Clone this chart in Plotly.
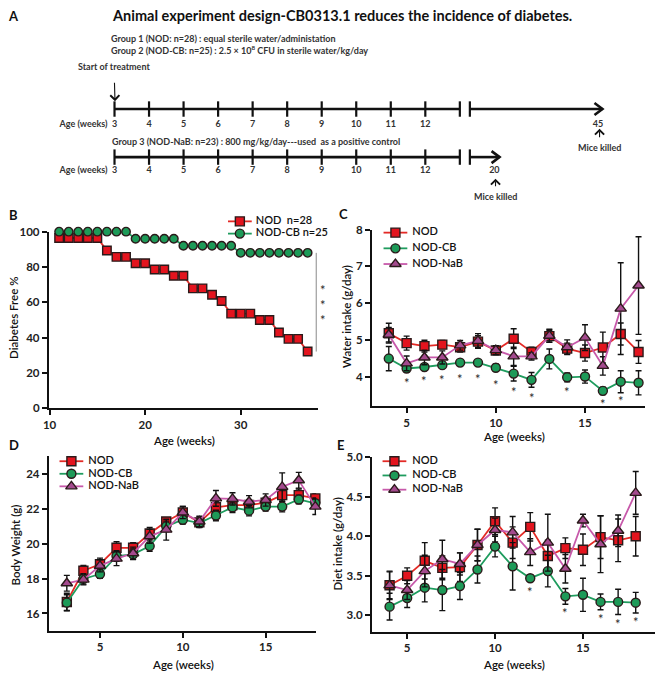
import plotly.graph_objects as go

W, H = 661, 686

# ---------------- data ----------------
# Panel B: diabetes-free survival
weeks_b = [11, 12, 13, 14, 15, 16, 17, 18, 19, 20, 21, 22, 23, 24, 25, 26, 27,
           28, 29, 30, 31, 32, 33, 34, 35, 36, 37]
free_nod = [96.4, 96.4, 96.4, 96.4, 96.4, 89.3, 85.7, 85.7, 82.1, 82.1, 78.6, 78.6,
            75.0, 75.0, 67.9, 67.9, 64.3, 60.7, 53.6, 53.6, 53.6, 50.0, 50.0, 42.9,
            39.3, 39.3, 32.1]
free_cb = [100, 100, 100, 100, 100, 100, 100, 100, 96, 96, 96, 96, 96, 92, 92, 92,
           92, 92, 92, 88, 88, 88, 88, 88, 88, 88, 88]
sig_b_y = [69.0, 60.5, 52.0]

# Panel C: water intake (g/day)
weeks_c = [4, 5, 6, 7, 8, 9, 10, 11, 12, 13, 14, 15, 16, 17, 18]
water_nod = [5.18, 4.91, 4.83, 4.87, 4.80, 4.95, 4.71, 5.03, 4.67, 5.10, 4.76, 4.64, 4.79, 5.16, 4.67]
water_nod_err = [0.27, 0.19, 0.16, 0.11, 0.13, 0.16, 0.11, 0.27, 0.13, 0.16, 0.15, 0.22, 0.42, 0.30, 0.31]
water_cb = [4.49, 4.22, 4.26, 4.31, 4.38, 4.38, 4.24, 4.08, 3.91, 4.48, 3.98, 4.00, 3.61, 3.86, 3.83]
water_cb_err = [0.33, 0.10, 0.08, 0.08, 0.05, 0.06, 0.10, 0.20, 0.20, 0.27, 0.12, 0.18, 0.10, 0.30, 0.33]
water_nab = [5.14, 4.36, 4.52, 4.52, 4.85, 4.97, 4.72, 4.55, 4.55, 5.11, 4.80, 5.06, 4.29, 5.85, 6.48]
water_nab_err = [0.20, 0.20, 0.20, 0.18, 0.13, 0.20, 0.12, 0.25, 0.10, 0.18, 0.20, 0.35, 0.25, 1.25, 1.33]
star_c_x = [5, 6, 7, 8, 9, 10, 11, 12, 14, 16, 17]
star_c_y = [3.94, 4.00, 4.02, 4.05, 4.05, 3.88, 3.70, 3.53, 3.69, 3.35, 3.44]

# Panel D: body weight (g)
weeks_d = [3, 4, 5, 6, 7, 8, 9, 10, 11, 12, 13, 14, 15, 16, 17, 18]
bw_nod = [16.66, 18.45, 18.82, 19.76, 19.76, 20.58, 21.27, 21.78, 21.22, 22.08, 22.21, 22.21, 22.35, 22.78, 22.78, 22.59]
bw_nod_err = [0.50, 0.30, 0.35, 0.35, 0.30, 0.35, 0.20, 0.35, 0.30, 0.35, 0.30, 0.30, 0.30, 0.40, 0.35, 0.25]
bw_cb = [16.62, 17.98, 18.26, 19.29, 19.39, 19.86, 20.99, 21.37, 21.18, 21.61, 22.08, 21.89, 22.12, 22.12, 22.53, 22.31]
bw_cb_err = [0.45, 0.30, 0.25, 0.30, 0.30, 0.30, 0.30, 0.25, 0.25, 0.30, 0.30, 0.30, 0.25, 0.30, 0.25, 0.30]
bw_nab = [17.73, 17.94, 18.73, 19.14, 19.45, 20.42, 20.80, 21.78, 21.27, 22.59, 22.56, 22.40, 22.50, 23.25, 23.63, 22.12]
bw_nab_err = [0.45, 0.30, 0.35, 0.40, 0.35, 0.40, 0.60, 0.35, 0.30, 0.45, 0.35, 0.35, 0.35, 0.80, 0.45, 0.45]

# Panel E: diet intake (g/day)
weeks_e = [4, 5, 6, 7, 8, 9, 10, 11, 12, 13, 14, 15, 16, 17, 18]
diet_nod = [3.38, 3.50, 3.69, 3.60, 3.61, 3.89, 4.19, 3.92, 4.12, 3.75, 3.85, 3.83, 3.99, 3.95, 4.00]
diet_nod_err = [0.17, 0.10, 0.23, 0.15, 0.18, 0.20, 0.17, 0.20, 0.18, 0.20, 0.13, 0.20, 0.27, 0.27, 0.25]
diet_cb = [3.11, 3.22, 3.35, 3.32, 3.37, 3.58, 3.87, 3.62, 3.47, 3.56, 3.24, 3.26, 3.17, 3.17, 3.16]
diet_cb_err = [0.17, 0.12, 0.18, 0.26, 0.17, 0.17, 0.13, 0.30, 0.04, 0.20, 0.10, 0.21, 0.10, 0.16, 0.13]
diet_nab = [3.38, 3.32, 3.56, 3.71, 3.65, 3.89, 4.08, 4.05, 3.80, 3.92, 3.59, 4.20, 3.90, 4.07, 4.55]
diet_nab_err = [0.18, 0.12, 0.20, 0.24, 0.14, 0.20, 0.15, 0.20, 0.17, 0.36, 0.18, 0.08, 0.36, 0.20, 0.27]
star_e_x = [12, 14, 16, 17, 18]
star_e_y = [3.35, 3.08, 3.00, 2.94, 2.97]

# Panel A: timeline labels
tl_weeks = ["3", "4", "5", "6", "7", "8", "9", "10", "11", "12"]
tl1_end = "45"
tl2_end = "20"

group_names = ["NOD", "NOD-CB", "NOD-NaB"]
b_names = ["NOD  n=28", "NOD-CB n=25"]

# ---------------- styles ----------------
FONT = "Lato, 'Open Sans', Arial, sans-serif"
STY = {
    "NOD": dict(fill="#e3141e", line="#e32a26", symbol="square", size=9),
    "NOD-CB": dict(fill="#1d9a58", line="#1f9c5e", symbol="circle", size=9),
    "NOD-NaB": dict(fill="#a44a8e", line="#c759aa", symbol="triangle-up", size=10),
}
EDGE = "#2a1a1a"
STAR_FONT = dict(family=FONT, size=13, color="#2a2a2a")


def xd(a, b):
    return [a / W, b / W]


def yd(top, bottom):
    return [1 - bottom / H, 1 - top / H]


def px(x):
    return x / W


def py(y):
    return 1 - y / H


fig = go.Figure()


def series(x, y, err, name, xa, ya, size=None):
    s = STY[name]
    fig.add_trace(go.Scatter(
        x=x, y=y, mode="lines+markers", name=name, showlegend=False,
        xaxis=xa, yaxis=ya, cliponaxis=False,
        line=dict(color=s["line"], width=1.8),
        marker=dict(symbol=s["symbol"], size=size or s["size"], color=s["fill"],
                    line=dict(color=EDGE, width=1.4)),
        error_y=None if err is None else dict(type="data", array=err, color="#111",
                                              thickness=1.4, width=3),
    ))


def stars(xs, ys, xa, ya, xshift=0):
    for xv, yv in zip(xs, ys):
        fig.add_annotation(x=xv, y=yv, xref=xa, yref=ya, text="*", showarrow=False,
                           xshift=xshift, yshift=-4, font=STAR_FONT)


# Panel B
series(weeks_b, free_nod, None, "NOD", "x", "y", size=8.5)
series(weeks_b, free_cb, None, "NOD-CB", "x", "y", size=8.5)
sig_x = weeks_b[-1] + 0.9
fig.add_trace(go.Scatter(x=[sig_x, sig_x], y=[free_nod[-1], free_cb[-1]], mode="lines",
                         line=dict(color="#8a8a8a", width=1), showlegend=False,
                         xaxis="x", yaxis="y", cliponaxis=False, hoverinfo="skip"))
stars([sig_x] * len(sig_b_y), sig_b_y, "x", "y", xshift=7)

# Panel C
series(weeks_c, water_nod, water_nod_err, "NOD", "x2", "y2")
series(weeks_c, water_cb, water_cb_err, "NOD-CB", "x2", "y2")
series(weeks_c, water_nab, water_nab_err, "NOD-NaB", "x2", "y2")
stars(star_c_x, star_c_y, "x2", "y2")

# Panel D
series(weeks_d, bw_nod, bw_nod_err, "NOD", "x3", "y3")
series(weeks_d, bw_cb, bw_cb_err, "NOD-CB", "x3", "y3")
series(weeks_d, bw_nab, bw_nab_err, "NOD-NaB", "x3", "y3")

# Panel E
series(weeks_e, diet_nod, diet_nod_err, "NOD", "x4", "y4")
series(weeks_e, diet_cb, diet_cb_err, "NOD-CB", "x4", "y4")
series(weeks_e, diet_nab, diet_nab_err, "NOD-NaB", "x4", "y4")
stars(star_e_x, star_e_y, "x4", "y4")


# ---------- custom legends drawn on a pixel overlay axis (x5/y5) ----------
def legend(names, labels, sym_x, text_x, y0, dy, fsize):
    for i, (n, lab) in enumerate(zip(names, labels)):
        s = STY[n]
        yy = y0 + i * dy
        fig.add_trace(go.Scatter(x=[sym_x - 12, sym_x + 12], y=[yy, yy], mode="lines",
                                 line=dict(color=s["line"], width=1.8), showlegend=False,
                                 xaxis="x5", yaxis="y5", hoverinfo="skip"))
        fig.add_trace(go.Scatter(x=[sym_x], y=[yy], mode="markers", showlegend=False,
                                 marker=dict(symbol=s["symbol"], size=s["size"],
                                             color=s["fill"], line=dict(color=EDGE, width=1.4)),
                                 xaxis="x5", yaxis="y5", hoverinfo="skip"))
        fig.add_trace(go.Scatter(x=[text_x], y=[yy], mode="text", text=[lab],
                                 textposition="middle right", showlegend=False,
                                 textfont=dict(family=FONT, size=fsize, color="#111", weight=600),
                                 xaxis="x5", yaxis="y5", hoverinfo="skip"))


legend(group_names[:2], b_names, 236, 252, 218.5, 12.5, 11)
legend(group_names, group_names, 393, 410, 230, 16, 11)
legend(group_names, group_names, 66, 83, 463, 12.8, 11)
legend(group_names, group_names, 392, 410, 463, 14.5, 11)

# ---------- Panel A timeline: slot axis x6 (one unit per week mark) + pixel y5 ----------
TL_Y1, TL_Y2 = 104, 153
LAB_Y1, LAB_Y2 = 120, 167
TL_FONT = dict(family=FONT, size=9, color="#333", weight="bold")
slots = list(range(len(tl_weeks)))
end_slot = len(tl_weeks)
break_slot = end_slot + 0.29
for ty, ly, tip_slot, end_lab in [(TL_Y1, LAB_Y1, end_slot + 4.13, tl1_end),
                                   (TL_Y2, LAB_Y2, end_slot + 1.15, tl2_end)]:
    fig.add_trace(go.Scatter(x=[0, end_slot], y=[ty, ty], mode="lines",
                             line=dict(color="#111", width=2.6), showlegend=False,
                             xaxis="x6", yaxis="y5", hoverinfo="skip"))
    fig.add_trace(go.Scatter(x=[break_slot, tip_slot], y=[ty, ty], mode="lines",
                             line=dict(color="#111", width=2.6), showlegend=False,
                             xaxis="x6", yaxis="y5", hoverinfo="skip"))
    fig.add_trace(go.Scatter(x=slots + [end_slot, break_slot], y=[ty] * (len(slots) + 2),
                             mode="markers", marker=dict(symbol="line-ns", size=11,
                                                         line=dict(color="#111", width=2.2)),
                             showlegend=False, xaxis="x6", yaxis="y5", hoverinfo="skip"))
    # chevron arrow head, sized in pixels, anchored at the tip
    fig.add_shape(type="path", xref="x6", yref="y5", xsizemode="pixel", ysizemode="pixel",
                  xanchor=tip_slot, yanchor=ty, path="M-8,-6 L0,0 L-8,6",
                  line=dict(color="#111", width=2.6))
    fig.add_trace(go.Scatter(x=slots + [round(tip_slot - 0.13)], y=[ly] * (len(slots) + 1),
                             mode="text", text=tl_weeks + [end_lab], textfont=TL_FONT,
                             showlegend=False, xaxis="x6", yaxis="y5", hoverinfo="skip"))
    fig.add_trace(go.Scatter(x=[-0.2], y=[ly], mode="text", text=["Age (weeks)"],
                             textposition="middle left", textfont=TL_FONT,
                             showlegend=False, xaxis="x6", yaxis="y5", hoverinfo="skip"))

# ---------------- axes ----------------
TICKF = dict(family=FONT, size=11.5, color="#222", weight="bold")


def ax(domain, rng, dtick, tick0=None, fmt=None, anchor=None):
    d = dict(domain=domain, range=rng, showline=True, linecolor="#111", linewidth=1.5,
             ticks="outside", ticklen=5, tickwidth=1.5, tickcolor="#111", showgrid=False,
             zeroline=False, tickfont=TICKF, dtick=dtick, fixedrange=True, anchor=anchor)
    if tick0 is not None:
        d["tick0"] = tick0
    if fmt:
        d["tickformat"] = fmt
    return d


layout = dict(
    width=W, height=H, margin=dict(l=0, r=0, t=0, b=0),
    paper_bgcolor="white", plot_bgcolor="rgba(0,0,0,0)", showlegend=False,
    font=dict(family=FONT, color="#111"),
    xaxis=ax(xd(43, 315), [9.9, 38.1], 10, anchor="y"),
    yaxis=ax(yd(229, 409), [0, 100], 20, anchor="x"),
    xaxis2=ax(xd(369, 645), [3.04, 18.37], 5, tick0=0, anchor="y2"),
    yaxis2=ax(yd(227, 407), [3.19, 8.0], 1, tick0=4, anchor="x2"),
    xaxis3=ax(xd(43, 313), [1.9, 18.05], 5, tick0=0, anchor="y3"),
    yaxis3=ax(yd(458, 636), [15, 25], 2, tick0=16, anchor="x3"),
    xaxis4=ax(xd(369, 655), [2.98, 19.1], 5, tick0=0, anchor="y4"),
    yaxis4=ax(yd(459, 637), [2.79, 5.0], 0.5, tick0=3, fmt=".1f", anchor="x4"),
    xaxis5=dict(domain=[0, 1], range=[0, W], visible=False, fixedrange=True, anchor="y5"),
    yaxis5=dict(domain=[0, 1], range=[H, 0], visible=False, fixedrange=True, anchor="x5"),
    xaxis6=dict(domain=[0, 1], range=[-109.5 / 34.85, (W - 109.5) / 34.85], visible=False,
                fixedrange=True, anchor="y5"),
)
fig.update_layout(**layout)


# ---------------- text annotations ----------------
def note(x, y, text, size=11, bold=False, xanchor="center", angle=0, color="#111", weight=None):
    fig.add_annotation(x=px(x), y=py(y), xref="paper", yref="paper", text=text,
                       showarrow=False, xanchor=xanchor, yanchor="middle", textangle=angle,
                       font=dict(family=FONT, size=size, color=color,
                                 weight=weight if weight else ("bold" if bold else "normal")))


def arrow_note(text, tx, ty, tip_x, tip_y, gap):
    # text label with a thin arrow pointing from it to (tip_x, tip_y), pixel coords
    fig.add_annotation(x=tip_x, y=tip_y, ax=tx, ay=ty, xref="x5", yref="y5", axref="x5",
                       ayref="y5", text=text, showarrow=True, arrowhead=4, arrowsize=1.6,
                       arrowwidth=1.1, arrowcolor="#111", standoff=0, startstandoff=gap,
                       font=dict(family=FONT, size=9, color="#333", weight="bold"))


# panel letters
for lab, x, y in [("A", 8, 9), ("B", 8, 212), ("C", 341, 211), ("D", 8, 446), ("E", 338, 446)]:
    note(x, y, lab, size=13, bold=True)

note(339, 9, "Animal experiment design-CB0313.1 reduces the incidence of diabetes.", size=14.5,
     bold=True)
note(104, 32, "Group 1 (NOD: n=28) : equal sterile water/administation", size=9, bold=True,
     xanchor="left", color="#333")
note(104, 44, "Group 2 (NOD-CB: n=25) : 2.5 \u00d7 10<sup>8</sup> CFU in sterile water/kg/day",
     size=9, bold=True, xanchor="left", color="#333")
note(105, 137, "Group 3 (NOD-NaB: n=23) : 800 mg/kg/day---used  as a positive control", size=9,
     bold=True, xanchor="left", color="#333")
arrow_note("Start of treatment", 109, 61, 110, 96, 9)
arrow_note("Mice killed", 599, 143, 599, 124, 3)
arrow_note("Mice killed", 494, 193, 494, 175, 3)

# axis titles
note(180, 442, "Age (weeks)", size=11.5, weight=600)
note(8, 317, "Diabetes Free %", size=11.5, weight=600, angle=-90)
note(513, 438, "Age (weeks)", size=11.5, weight=600)
note(343, 315, "Water intake (g/day)", size=11.5, weight=600, angle=-90)
note(179, 670, "Age (weeks)", size=11.5, weight=600)
note(10, 548, "Body Weight (g)", size=11.5, weight=600, angle=-90)
note(513, 670, "Age (weeks)", size=11.5, weight=600)
note(335, 547, "Diet intake (g/day)", size=11.5, weight=600, angle=-90)

fig.write_html("out.html", config={"displayModeBar": False},
               post_script="document.body.style.margin='0';document.body.style.overflow='hidden';")
